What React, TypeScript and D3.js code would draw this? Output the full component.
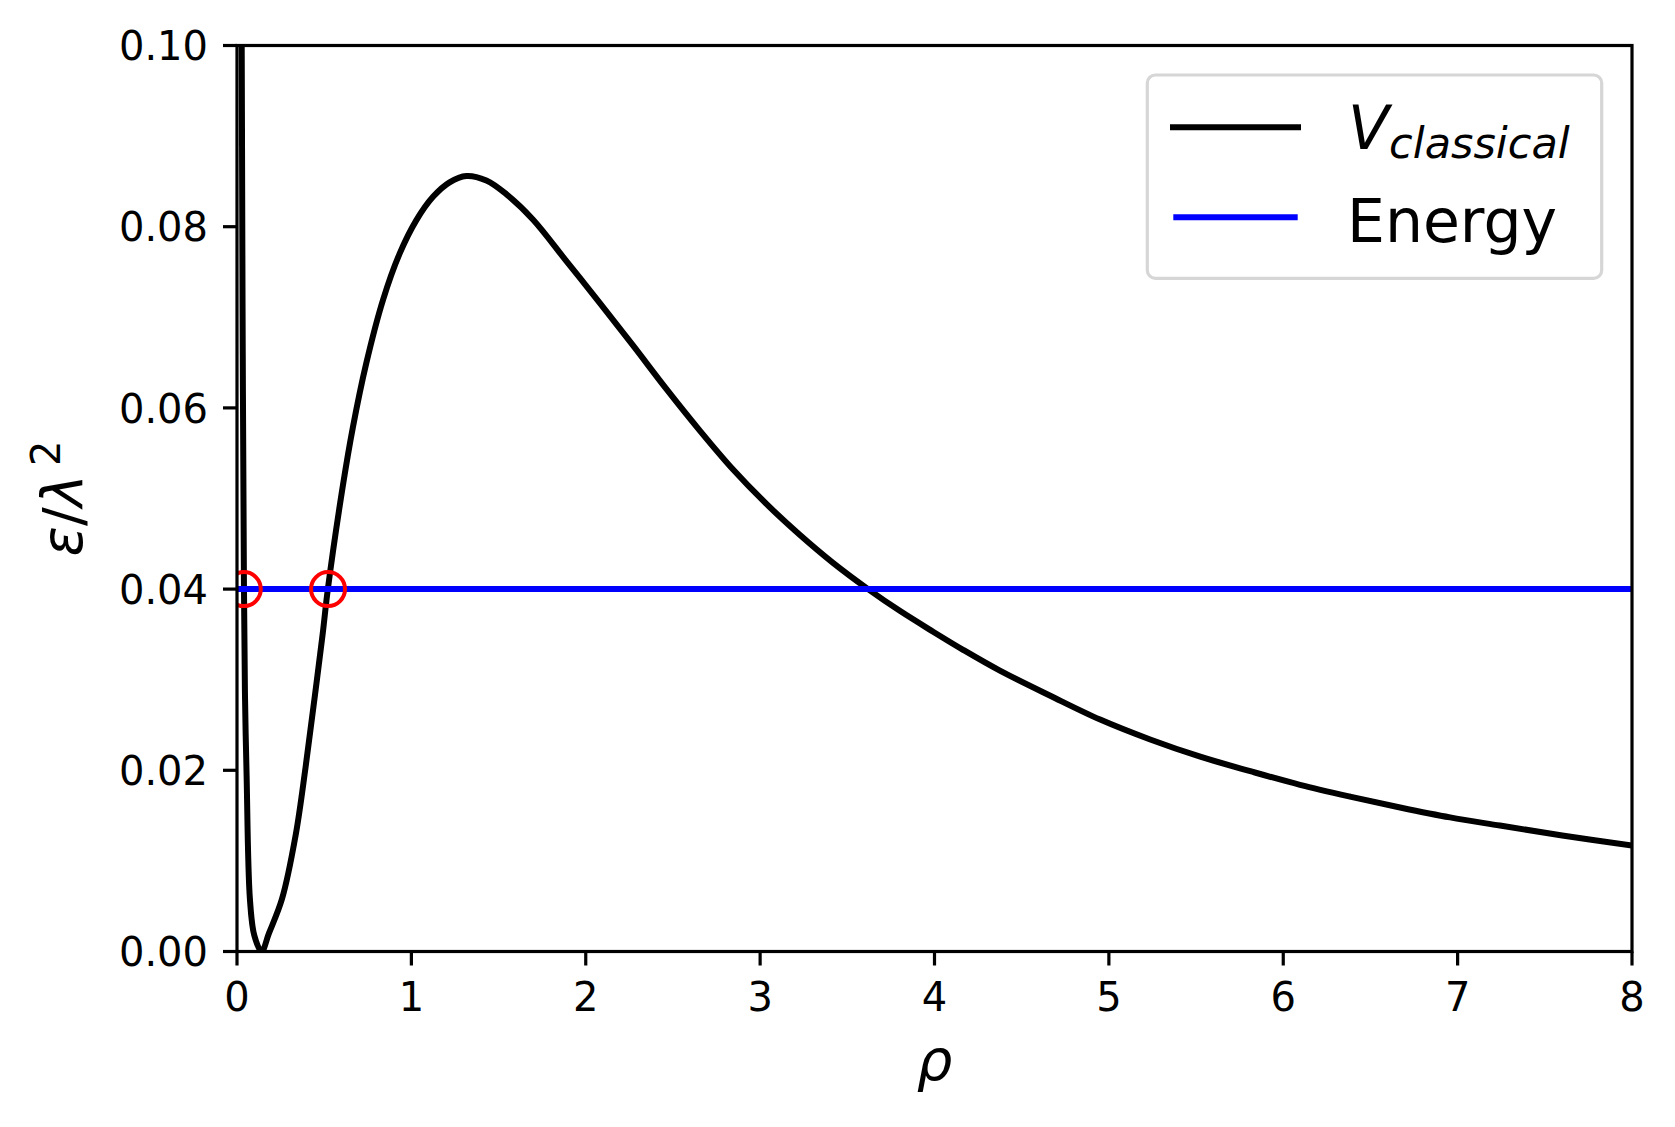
import React from 'react';
import * as d3 from 'd3';

// rho values and classical potential
const RHO = [
  0.022, 0.027, 0.033, 0.040, 0.046, 0.055, 0.074, 0.099, 0.141, 0.183,
  0.258, 0.336, 0.393, 0.443, 0.491, 0.521, 0.607, 0.664, 0.741, 0.837,
  0.932, 1.028, 1.124, 1.219, 1.315, 1.430, 1.544, 1.697, 1.889, 2.080,
  2.271, 2.462, 2.654, 2.845, 3.036, 3.227, 3.418, 3.619, 3.801, 3.992,
  4.164, 4.375, 4.667, 4.950, 5.237, 5.524, 5.811, 6.096, 6.383, 6.670,
  6.957, 7.243, 7.600, 8.000,
];
const V_CLASSICAL = [
  0.180, 0.100, 0.066, 0.040, 0.028, 0.0195, 0.0058, 0.0018, 0.0, 0.0020,
  0.0058, 0.0128, 0.0203, 0.0277, 0.0350, 0.0400, 0.0514, 0.0578, 0.0649, 0.0719,
  0.0770, 0.0807, 0.0833, 0.0849, 0.0856, 0.0851, 0.0836, 0.0808, 0.0762, 0.0716,
  0.0669, 0.0621, 0.0575, 0.0532, 0.0494, 0.0460, 0.0429, 0.0400, 0.0376, 0.0353,
  0.0333, 0.0310, 0.0282, 0.0256, 0.0234, 0.0215, 0.0199, 0.0184, 0.0171, 0.0159,
  0.0148, 0.0139, 0.0128, 0.0117,
];
const ENERGY_LEVEL = 0.04;
const TURNING_POINTS = [0.039, 0.522];
const X_TICKS = [0, 1, 2, 3, 4, 5, 6, 7, 8];
const Y_TICKS = [0, 0.02, 0.04, 0.06, 0.08, 0.1];

const FONT = '"DejaVu Sans", sans-serif';

export default function App() {
  const W = 1675;
  const H = 1127;
  const m = { left: 237, right: 1632, top: 45.5, bottom: 951.5 };
  const x = d3.scaleLinear().domain([0, 8]).range([m.left, m.right]);
  const y = d3.scaleLinear().domain([0, 0.1]).range([m.bottom, m.top]);

  const pts: [number, number][] = RHO.map((r, i) => [r, V_CLASSICAL[i]]);
  const line = d3
    .line<[number, number]>()
    .x((d) => x(d[0]))
    .y((d) => y(d[1]))
    .curve(d3.curveCatmullRom.alpha(0.5));

  const tickLen = 14;
  const tickW = 3.2;

  return (
    <svg
      width={W}
      height={H}
      style={{ position: 'absolute', left: 0, top: 0 }}
      fontFamily={FONT}
    >
      <rect x={0} y={0} width={W} height={H} fill="#ffffff" />
      <defs>
        <clipPath id="plotClip">
          <rect x={m.left} y={m.top} width={m.right - m.left} height={m.bottom - m.top} />
        </clipPath>
      </defs>

      <g clipPath="url(#plotClip)">
        <path d={line(pts) || ''} fill="none" stroke="#000000" strokeWidth={6} strokeLinejoin="round" />
        <line
          x1={x(0)}
          x2={x(8)}
          y1={y(ENERGY_LEVEL)}
          y2={y(ENERGY_LEVEL)}
          stroke="#0000ff"
          strokeWidth={6}
        />
        {TURNING_POINTS.map((r, i) => (
          <circle key={i} cx={x(r)} cy={y(ENERGY_LEVEL)} r={17} fill="none" stroke="#ff0000" strokeWidth={4} />
        ))}
      </g>

      {/* spines */}
      <rect
        x={m.left}
        y={m.top}
        width={m.right - m.left}
        height={m.bottom - m.top}
        fill="none"
        stroke="#000000"
        strokeWidth={3.2}
      />

      {/* x ticks */}
      {X_TICKS.map((t) => (
        <g key={'x' + t}>
          <line x1={x(t)} x2={x(t)} y1={m.bottom} y2={m.bottom + tickLen} stroke="#000" strokeWidth={tickW} />
          <text x={x(t)} y={1011} fontSize={40} textAnchor="middle" fill="#000">
            {String(t)}
          </text>
        </g>
      ))}

      {/* y ticks */}
      {Y_TICKS.map((t) => (
        <g key={'y' + t}>
          <line x1={m.left - tickLen} x2={m.left} y1={y(t)} y2={y(t)} stroke="#000" strokeWidth={tickW} />
          <text x={208} y={y(t) + 14.6} fontSize={40} textAnchor="end" fill="#000">
            {t.toFixed(2)}
          </text>
        </g>
      ))}

      {/* x label */}
      <text x={(m.left + m.right) / 2} y={1080} fontSize={56} fontStyle="italic" textAnchor="middle" fill="#000">
        ρ
      </text>

      {/* y label */}
      <text
        transform={`translate(82, ${(m.top + m.bottom) / 2}) rotate(-90)`}
        fontSize={56}
        textAnchor="middle"
        fill="#000"
      >
        <tspan fontStyle="italic">ε</tspan>
        <tspan>/</tspan>
        <tspan fontStyle="italic">λ</tspan>
        <tspan dx={8} dy={-22} fontSize={40}>2</tspan>
      </text>

      {/* legend */}
      <g>
        <rect x={1147.3} y={75} width={454.4} height={203.3} rx={8} ry={8} fill="#ffffff" stroke="#d6d6d6" strokeWidth={3.2} />
        <line x1={1173} x2={1298} y1={127.3} y2={127.3} stroke="#000" strokeWidth={6} strokeLinecap="square" />
        <text x={1348} y={149.3} fontSize={60} fill="#000">
          <tspan fontStyle="italic">V</tspan>
          <tspan fontStyle="italic" fontSize={43} dy={9}>classical</tspan>
        </text>
        <line x1={1173.3} x2={1297.7} y1={217.3} y2={217.3} stroke="#0000ff" strokeWidth={6} />
        <text x={1347} y={241.7} fontSize={60} fill="#000">
          Energy
        </text>
      </g>
    </svg>
  );
}
